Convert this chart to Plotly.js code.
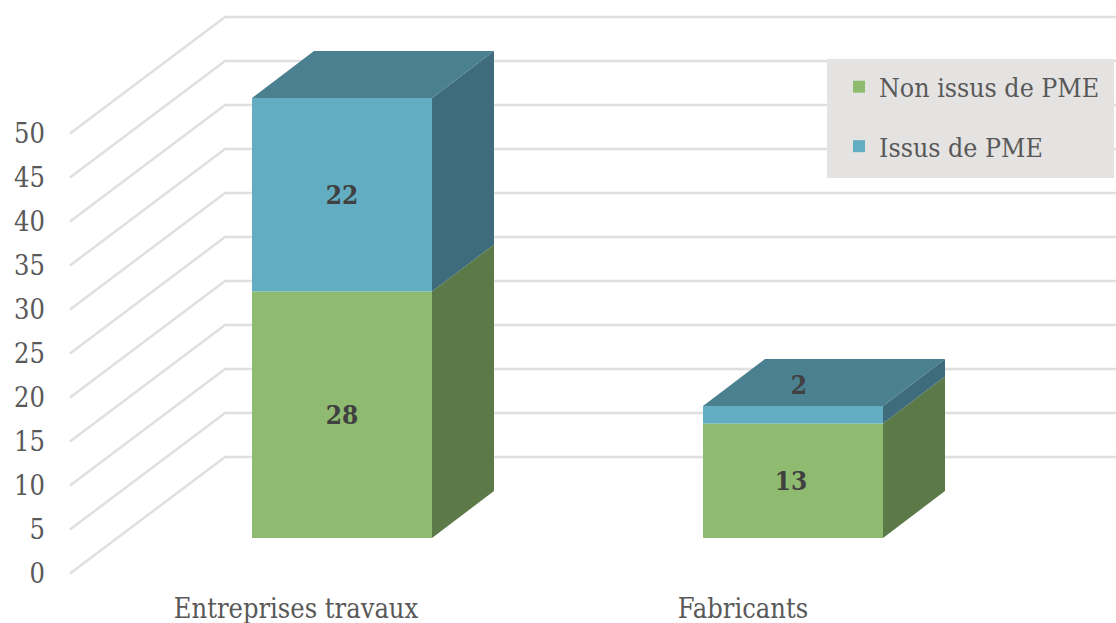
<!DOCTYPE html>
<html>
<head>
<meta charset="utf-8">
<script src="https://cdn.plot.ly/plotly-3.0.1.min.js"></script>
<style>html,body{margin:0;padding:0;background:#fff}#c{width:1116px;height:623px}</style>
</head>
<body>
<div id="c"></div>
<script>
const categories = ['Entreprises travaux', 'Fabricants'];
const nonIssus = [28, 13];
const issus = [22, 2];
const yTicks = [0, 5, 10, 15, 20, 25, 30, 35, 40, 45, 50];
const names = ['Non issus de PME', 'Issus de PME'];
const frontColors = ['#8FBB71', '#63ADC3'];
const sideColors = ['#5B7A48', '#3F6C7C'];
const topColor = '#4B8091';
const FONT = '"DejaVu Serif Condensed","DejaVu Serif",serif';

// geometry of the oblique view, in axis units
const W = 1116, H = 623, L = 46, B = 33;
const PXU = 451, PXV = 8.8, X0 = 342, Y0 = 573.5;
const barWidth = 180 / PXU;
const barBase = 35.5 / PXV;
const depthX = 62 / PXU, depthY = 47 / PXV;
const wallFrontX = (70 - X0) / PXU, wallBackX = (225 - X0) / PXU, wallDY = 116.5 / PXV;
const xEnd = (W - X0) / PXU;
const catPos = categories.map((_, i) => i);
const tickShift = [-46 / PXU, -50 / PXU];

const series = [nonIssus, issus];
const bases = [catPos.map(() => barBase), nonIssus.map(v => v + barBase)];

const traces = [];
series.forEach((vals, s) => {
  traces.push({
    type: 'bar', x: catPos, y: vals, base: bases[s], width: barWidth, name: names[s],
    legendgroup: 'g' + s, marker: { color: frontColors[s], line: { width: 0 } }, hoverinfo: 'skip'
  });
});
series.forEach((vals, s) => {
  const xs = [], ys = [];
  vals.forEach((v, i) => {
    const r = catPos[i] + barWidth / 2, b = bases[s][i], t = b + v;
    xs.push(r, r + depthX, r + depthX, r, r, null);
    ys.push(b, b + depthY, t + depthY, t, b, null);
  });
  traces.push({ type: 'scatter', mode: 'lines', x: xs, y: ys, fill: 'toself', fillcolor: sideColors[s],
    line: { width: 0 }, showlegend: false, hoverinfo: 'skip' });
});
{
  const xs = [], ys = [];
  catPos.forEach((c, i) => {
    const l = c - barWidth / 2, r = c + barWidth / 2, t = bases[1][i] + issus[i];
    xs.push(l, r, r + depthX, l + depthX, l, null);
    ys.push(t, t, t + depthY, t + depthY, t, null);
  });
  traces.push({ type: 'scatter', mode: 'lines', x: xs, y: ys, fill: 'toself', fillcolor: topColor,
    line: { width: 0 }, showlegend: false, hoverinfo: 'skip' });
}
// value labels; the label of the thin top segment sits on the top face
const labelX = [], labelY = [], labelT = [];
const labelDrop = 2.5 / PXV;
series.forEach((vals, s) => vals.forEach((v, i) => {
  const thin = v < 5;
  labelX.push(catPos[i] + (thin ? 6 / PXU : (i ? -2 / PXU : 0)));
  labelY.push((thin ? bases[s][i] + v + depthY * 0.45 : bases[s][i] + v / 2) - labelDrop);
  labelT.push(String(v));
}));
traces.push({ type: 'scatter', mode: 'text', x: labelX, y: labelY, text: labelT, textposition: 'middle center',
  textfont: { family: FONT, size: 26, color: '#404040', weight: 'bold' }, showlegend: false, hoverinfo: 'skip' });

const grid = yTicks.map(t => ({
  type: 'path', layer: 'below', xref: 'x', yref: 'y',
  path: `M${wallFrontX},${t} L${wallBackX},${t + wallDY} L${xEnd},${t + wallDY}`,
  line: { color: '#DFDFDF', width: 2.5 }
}));
const px = x => (x - L) / (W - L), py = y => ((H - B) - y) / (H - B);
const legendBox = { type: 'rect', layer: 'above', xref: 'paper', yref: 'paper',
  x0: px(827), x1: px(1114), y0: py(178), y1: py(59), fillcolor: '#E4E3E1', line: { width: 0 } };

const layout = {
  width: W, height: H, margin: { l: L, r: 0, t: 0, b: B },
  paper_bgcolor: '#fff', plot_bgcolor: 'rgba(0,0,0,0)',
  font: { family: FONT, color: '#595959', size: 27 },
  barmode: 'overlay', showlegend: true, hovermode: false,
  xaxis: { range: [(L - X0) / PXU, xEnd], tickmode: 'array', tickvals: catPos.map((c, i) => c + tickShift[i]),
    ticktext: categories, ticklen: 0, showgrid: false, zeroline: false, showline: false,
    tickfont: { family: FONT, size: 27, color: '#595959' } },
  yaxis: { range: [(Y0 - (H - B)) / PXV, Y0 / PXV], tickmode: 'array', tickvals: yTicks, ticktext: yTicks.map(String),
    ticklen: 0, showgrid: false, zeroline: false, showline: false,
    tickfont: { family: FONT, size: 27, color: '#595959' } },
  legend: { x: px(839), xanchor: 'left', y: py(63), yanchor: 'top', bgcolor: 'rgba(0,0,0,0)', borderwidth: 0,
    tracegroupgap: 22, traceorder: 'grouped', font: { family: FONT, size: 26.5, color: '#595959' } },
  shapes: grid.concat([legendBox])
};
Plotly.newPlot('c', traces, layout, { displayModeBar: false, responsive: false });
</script>
</body>
</html>
